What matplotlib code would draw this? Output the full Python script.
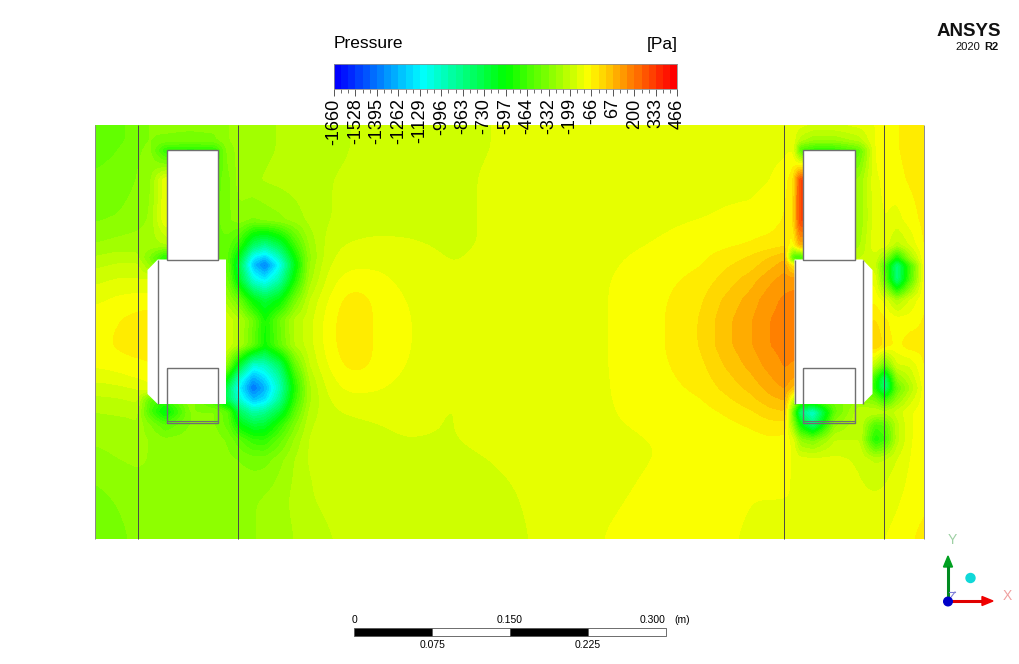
import numpy as np
import matplotlib
matplotlib.use("Agg")
import matplotlib.pyplot as plt
from matplotlib.colors import LinearSegmentedColormap
from matplotlib.patches import Polygon, Circle

plt.rcParams['font.family'] = ['Liberation Sans', 'DejaVu Sans']

W, H = 1020, 664
PX_PER_M = 1037.5

# legend
legend_labels = ["-1660","-1528","-1395","-1262","-1129","-996","-863","-730","-597",
                 "-464","-332","-199","-66","67","200","333","466"]
p_min, p_max = -1660, 466
bands_per_label = 3

# scale bar (m)
scale_edges = [0, 0.075, 0.150, 0.225, 0.300]
scale_colors = ["black", "white", "black", "white"]
scale_top = ["0", "0.150", "0.300"]
scale_bottom = ["0.075", "0.225"]

# pressure (Pa) read at image columns / rows
col_px = [95,115,137,150,165,190,215,228,240,253,265,280,295,310,330,350,375,405,450,520,600,650,700,725,750,770,785,793,800,813,835,860,875,885,897,910,925]
row_px = [125,140,150,180,220,245,258,265,280,300,320,345,365,378,388,400,412,425,440,460,500,539]
pressure = [
[-400,-400,-350,-330,-320,-320,-320,-290,-270,-260,-250,-240,-230,-220,-210,-200,-180,-170,-160,-150,-140,-130,-130,-130,-130,-130,-130,-130,-140,-160,-160,-140,-110,-80,-70,-50,-40],
[-400,-400,-350,-330,-340,-350,-340,-290,-270,-260,-250,-240,-230,-220,-210,-200,-180,-170,-160,-150,-140,-135,-130,-130,-130,-130,-130,-130,-220,-280,-280,-220,-110,-80,-70,-50,-40],
[-390,-380,-340,-320,-520,-540,-520,-310,-270,-260,-250,-240,-230,-220,-210,-200,-180,-170,-160,-150,-140,-135,-130,-130,-130,-130,-120,-110,-450,-520,-520,-400,-110,-80,-70,-50,-40],
[-370,-360,-330,-300,-120,-120,-400,-350,-260,-250,-240,-230,-220,-210,-200,-190,-170,-165,-160,-145,-130,-125,-125,-120,-120,-110,-80,-40,300,300,-300,-280,-120,-100,-80,-60,-40],
[-340,-330,-310,-280,-120,-120,-400,-340,-310,-340,-320,-300,-270,-230,-200,-180,-170,-165,-160,-145,-130,-120,-110,-105,-100,-90,-60,-30,300,300,-300,-280,-130,-110,-130,-90,-50],
[-290,-270,-260,-260,-250,-150,-380,-400,-520,-800,-900,-750,-480,-270,-170,-150,-145,-150,-160,-145,-125,-110,-90,-75,-60,-45,-30,-100,100,0,-300,-250,-120,-130,-220,-150,-60],
[-240,-220,-230,-350,-560,-250,-380,-420,-700,-1150,-1250,-1000,-600,-290,-160,-130,-130,-140,-155,-145,-120,-100,-75,-45,-15,25,60,-500,-560,-200,-300,-200,-170,-300,-600,-280,-60],
[-210,-190,-190,-300,-450,-250,-350,-400,-780,-1250,-1400,-1100,-650,-270,-150,-120,-120,-135,-155,-145,-120,-95,-70,-30,0,50,90,-50,-50,-50,-100,-150,-180,-450,-880,-480,-60],
[-170,-150,-150,-150,-150,-150,-300,-370,-700,-1050,-1150,-950,-560,-250,-130,-85,-90,-125,-150,-145,-115,-90,-50,-5,45,100,135,140,140,140,140,-140,-120,-400,-880,-450,-60],
[-120,-100,-90,-90,-90,-90,-200,-280,-400,-620,-720,-620,-370,-190,-100,-40,-70,-110,-145,-145,-115,-85,-30,30,85,140,165,170,170,170,170,-60,-80,-130,-250,-150,-70],
[-90,-70,-50,-40,-40,-40,-100,-170,-240,-380,-570,-380,-230,-170,-80,-30,-70,-105,-140,-145,-115,-85,-20,50,105,155,175,175,175,175,175,-40,-20,-60,-90,-90,-60],
[-80,-60,-40,-40,-40,-40,-90,-170,-250,-400,-580,-400,-240,-170,-80,-30,-70,-105,-140,-145,-115,-85,-20,50,105,155,175,175,175,175,175,-30,30,-40,-80,-40,-50],
[-100,-90,-80,-70,-70,-70,-150,-340,-720,-1050,-1000,-800,-400,-190,-100,-45,-70,-110,-145,-145,-115,-85,-35,25,80,130,160,150,150,150,150,-100,-220,-400,-160,-150,-60],
[-140,-130,-110,-100,-100,-100,-300,-620,-1050,-1300,-1180,-930,-500,-220,-120,-75,-85,-120,-145,-145,-115,-90,-45,5,55,105,140,110,110,110,110,-200,-500,-850,-300,-200,-70],
[-180,-170,-150,-120,-120,-120,-450,-800,-1150,-1420,-1280,-980,-540,-240,-135,-95,-100,-130,-150,-145,-115,-90,-55,-10,35,85,115,50,50,50,50,-250,-550,-880,-400,-250,-80],
[-210,-210,-190,-420,-500,-300,-500,-800,-1050,-1250,-1180,-900,-500,-240,-150,-125,-130,-140,-155,-145,-115,-95,-70,-35,5,50,70,-200,-400,-400,-350,-300,-350,-500,-300,-180,-80],
[-250,-240,-230,-450,-650,-330,-330,-420,-800,-950,-900,-720,-420,-220,-165,-155,-150,-150,-155,-145,-115,-100,-85,-60,-30,5,20,-400,-850,-1050,-400,-200,-200,-220,-180,-120,-80],
[-260,-260,-250,-330,-420,-330,-330,-400,-620,-720,-700,-520,-340,-200,-170,-160,-155,-150,-155,-145,-115,-105,-95,-80,-60,-40,-40,-300,-600,-850,-300,-200,-450,-420,-220,-120,-70],
[-280,-270,-270,-290,-320,-310,-310,-340,-420,-500,-510,-400,-280,-190,-175,-165,-160,-155,-155,-145,-120,-110,-105,-95,-85,-75,-80,-130,-300,-350,-200,-200,-560,-480,-220,-120,-70],
[-310,-290,-280,-290,-300,-300,-310,-320,-330,-350,-350,-300,-240,-190,-180,-170,-165,-160,-160,-150,-120,-110,-105,-100,-100,-100,-100,-110,-130,-130,-140,-160,-200,-190,-150,-110,-70],
[-350,-330,-310,-300,-300,-300,-300,-300,-300,-290,-280,-260,-230,-200,-190,-180,-175,-170,-165,-155,-115,-105,-100,-100,-110,-110,-110,-110,-110,-120,-130,-140,-150,-140,-120,-90,-70],
[-380,-350,-320,-310,-310,-310,-310,-300,-300,-290,-280,-270,-240,-220,-200,-190,-185,-180,-170,-160,-110,-100,-100,-105,-115,-120,-120,-120,-120,-130,-130,-130,-125,-110,-90,-70,-50],
]

cmap = LinearSegmentedColormap.from_list(
    "ansys", [(0, 0, 1), (0, 1, 1), (0, 1, 0), (1, 1, 0), (1, 0, 0)])
n_bands = (len(legend_labels) - 1) * bands_per_label
levels = np.linspace(p_min, p_max, n_bands + 1)
band_colors = [cmap(i / (n_bands - 1)) for i in range(n_bands)]


def axes_px(x0, y0, x1, y1, **kw):
    return fig.add_axes([x0 / W, 1 - y1 / H, (x1 - x0) / W, (y1 - y0) / H], **kw)


def blur(a, n):
    k = np.r_[np.arange(1, n + 1), np.arange(n - 1, 0, -1)].astype(float)
    k /= k.sum()
    pad = n - 1
    f = lambda v: np.convolve(np.pad(v, pad, mode="edge"), k, "valid")
    return np.apply_along_axis(f, 1, np.apply_along_axis(f, 0, a))


fig = plt.figure(figsize=(W / 100, H / 100), dpi=100, facecolor="white")

# ---- pressure field (axes in metres) ----
X0, X1, Y0, Y1 = 95.0, 924.5, 124.5, 539.0
ax = axes_px(X0, Y0, X1, Y1)
ax.set_xlim(0, (X1 - X0) / PX_PER_M)
ax.set_ylim(0, (Y1 - Y0) / PX_PER_M)
ax.axis("off")
mx = lambda px: (np.asarray(px, float) - X0) / PX_PER_M
my = lambda py: (Y1 - np.asarray(py, float)) / PX_PER_M

P = np.array(pressure, float)
fine_x = np.arange(X0, X1 + 1, 1.0)
fine_y = np.arange(Y0, Y1 + 1, 1.0)
tmp = np.array([np.interp(fine_x, col_px, r) for r in P])
F0 = np.array([np.interp(fine_y, row_px, c) for c in tmp.T]).T
F_sharp = blur(F0, 4)
F_soft = blur(F0, 18)
wx = np.maximum(np.interp(fine_x, [300, 335, 680, 720], [0, 1, 1, 0]),
                np.interp(fine_x, [110, 130], [1, 0]))
wy = np.interp(fine_y, [450, 480], [0, 1])
w = np.maximum(wx[None, :], wy[:, None])
F = w * F_soft + (1 - w) * F_sharp
ax.contourf(mx(fine_x), my(fine_y), np.clip(F, p_min, p_max - 1), levels=levels,
            colors=band_colors, antialiased=False)

LINE = "#4a4a4a"
EDGE = "#707070"


def poly(points):
    pts = np.array(points, float)
    ax.add_patch(Polygon(np.c_[mx(pts[:, 0]), my(pts[:, 1])], closed=True,
                         facecolor="white", edgecolor="none", zorder=3))


def seg(xs, ys, c=EDGE, lw=1.0, z=4):
    ax.plot(mx(xs), my(ys), color=c, lw=lw, zorder=z, solid_capstyle="butt", clip_on=False)


# left assembly
poly([(157.7, 259.5), (226, 259.5), (226, 404), (157.7, 404), (147.5, 394), (147.5, 270)])
poly([(166.5, 150), (217.5, 150), (217.5, 259.5), (166.5, 259.5)])
seg([166.5, 217.5, 217.5, 166.5, 166.5], [150, 150, 259.5, 259.5, 150])
seg([157.7, 157.7], [259.5, 404])
seg([166.5, 217.5, 217.5, 166.5, 166.5], [368, 368, 423, 423, 368])
seg([166.5, 217.5], [421, 421], lw=0.8)
# right assembly
poly([(794.5, 259.5), (862.5, 259.5), (872.5, 270), (872.5, 394), (862.5, 404), (794.5, 404)])
poly([(802.5, 150), (854.5, 150), (854.5, 259.5), (802.5, 259.5)])
seg([802.5, 854.5, 854.5, 802.5, 802.5], [150, 150, 259.5, 259.5, 150])
seg([794.5, 794.5], [259.5, 404])
seg([862.5, 862.5], [259.5, 404])
seg([802.5, 854.5, 854.5, 802.5, 802.5], [368, 368, 423, 423, 368])
seg([802.5, 854.5], [421, 421], lw=0.8)
# full-height lines
for xl in (137.5, 237.5, 783.5, 883.5):
    seg([xl, xl], [Y0, Y1], c=LINE, lw=0.7, z=5)
for xl in (95.2, 924.3):
    seg([xl, xl], [Y0, Y1], c="#8a8a8a", lw=0.7, z=5)

# ---- legend ----
cax = axes_px(334, 64, 677.3, 89)
cax.set_zorder(5)
for i in range(n_bands):
    cax.barh(0, levels[i + 1] - levels[i], left=levels[i], height=1,
             color=band_colors[i], linewidth=0)
cax.set_xlim(p_min, p_max)
cax.set_ylim(-0.5, 0.5)
cax.set_yticks([])
for s in cax.spines.values():
    s.set_linewidth(0.6)
    s.set_color("#909090")
label_pos = np.linspace(p_min, p_max, len(legend_labels))
cax.set_xticks(label_pos, legend_labels, rotation=90, fontsize=13, color="black")
cax.set_xticks(levels, minor=True)
cax.tick_params(axis="x", which="major", length=5, width=0.7, color="#555555", pad=1.7)
cax.tick_params(axis="x", which="minor", length=3, width=0.6, color="#555555")
cax.patch.set_alpha(0)
fig.text(334 / W, 1 - 44 / H, "Pressure", fontsize=12.5, va="center", ha="left", zorder=6)
fig.text(677.5 / W, 1 - 44 / H, "[Pa]", fontsize=12.5, va="center", ha="right", zorder=6)

# ---- scale bar ----
sax = axes_px(354.5, 628, 354.5 + 0.3 * PX_PER_M, 636)
for i in range(len(scale_colors)):
    sax.barh(0, scale_edges[i + 1] - scale_edges[i], left=scale_edges[i], height=1,
             color=scale_colors[i], edgecolor="#555555", linewidth=0.6, clip_on=False)
sax.set_xlim(0, 0.3)
sax.set_ylim(-0.5, 0.5)
sax.axis("off")
for lab, v, dx in zip(scale_top, [0, 0.15, 0.3], [0, 0, -9.4]):
    sax.annotate(lab, (v, 1), xycoords=("data", "axes fraction"), xytext=(dx, 2.1),
                 textcoords="offset points", fontsize=7.5, ha="center", va="bottom", annotation_clip=False)
sax.annotate("(m)", (0.3, 1), xycoords=("data", "axes fraction"), xytext=(6, 2.1),
             textcoords="offset points", fontsize=7.5, ha="left", va="bottom", annotation_clip=False)
for lab, v in zip(scale_bottom, [0.075, 0.225]):
    sax.annotate(lab, (v, 0), xycoords=("data", "axes fraction"), xytext=(0, -2.6),
                 textcoords="offset points", fontsize=7.5, ha="center", va="top", annotation_clip=False)

# ---- logo and triad ----
ov = axes_px(0, 0, W, H)
ov.set_xlim(0, W)
ov.set_ylim(H, 0)
ov.axis("off")
ov.patch.set_alpha(0)
ov.set_zorder(6)
ov.text(968.5, 32, "ANSYS", fontsize=13.5, fontweight="bold", ha="center", va="center", color="#111111")
ov.text(980, 47, "2020", fontsize=8, ha="right", va="center", color="#111111")
ov.text(984, 47, "R2", fontsize=8, fontweight="bold", ha="left", va="center", color="#111111")

ov.plot([948, 948], [601, 566], color="#008a20", lw=2.2, solid_capstyle="butt")
ov.add_patch(Polygon([(943.5, 567), (952.5, 567), (948, 556)], color="#00a020"))
ov.plot([948, 982], [601, 601], color="#e00000", lw=2.2, solid_capstyle="butt")
ov.add_patch(Polygon([(982, 596.5), (982, 605.5), (993, 601)], color="#f00000"))
ov.plot([948, 955], [601, 592], color="#8080d8", lw=0.8)
ov.plot([949, 955], [592, 592], color="#8080d8", lw=0.8)
ov.add_patch(Circle((948, 601.5), 4.3, color="#0000c8", zorder=5))
ov.add_patch(Circle((970.5, 578), 4.5, color="#10d8d8", zorder=5))
ov.text(952, 540, "Y", fontsize=10, color="#9ed0a4", ha="center", va="center")
ov.text(1007.5, 596, "X", fontsize=10, color="#f0a0a0", ha="center", va="center")

fig.savefig("out.png", dpi=100, facecolor="white")
